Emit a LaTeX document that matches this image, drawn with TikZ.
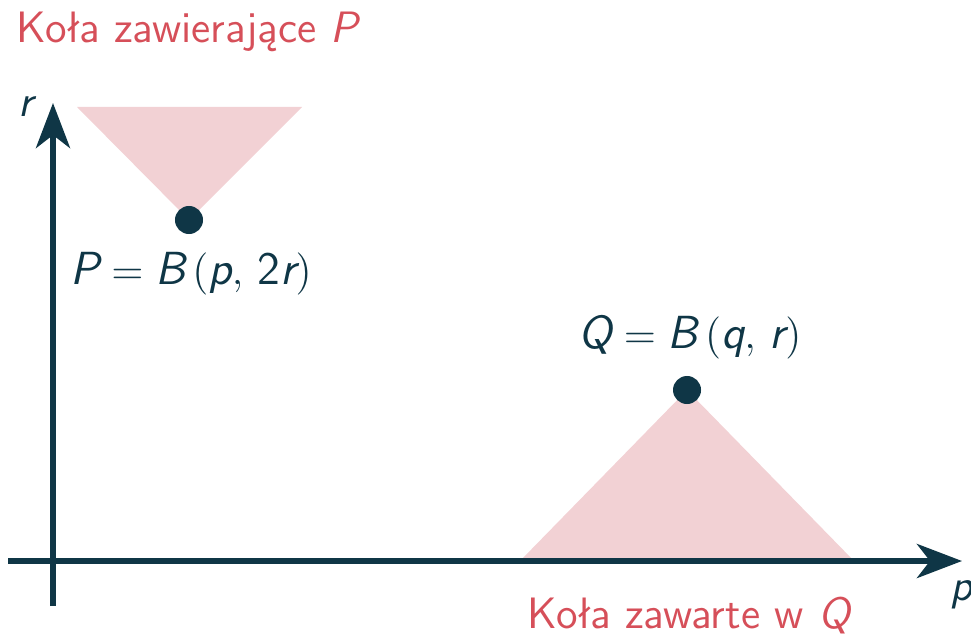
\documentclass[tikz,border=0pt]{standalone}
\usepackage{fontspec}
\usepackage{tikz}
\usetikzlibrary{arrows.meta}
\definecolor{ink}{HTML}{0F3646}
\definecolor{rose}{HTML}{D64F59}
\definecolor{blush}{HTML}{F2D1D4}
\newcommand{\mv}[1]{\textsf{\itshape #1}}

\begin{document}
\begin{tikzpicture}[x=0.01cm,y=-0.01cm,
  axis/.style={ink,line width=0.06cm,-{Stealth[length=0.45cm,width=0.34cm,inset=0.13cm]}},
  pt/.style={circle,fill=ink,inner sep=0pt,minimum size=0.28cm},
  lbl/.style={anchor=base west,inner sep=0pt,font=\fontsize{12.5}{15}\selectfont\sffamily},
  eq/.style={lbl,text=ink,font=\fontsize{13.2}{16}\selectfont\sffamily}]
  \useasboundingbox (0,0) rectangle (971,637);
  \coordinate (p) at (189,220);
  \coordinate (q) at (687,390);
  % balls containing P and balls inside Q
  \fill[blush] (p) -- (77,107) -- (302,107) -- cycle;
  \fill[blush] (q) -- (520,561) -- (854,561) -- cycle;
  % axes
  \coordinate (xs) at (8,561); \coordinate (xe) at (962,561);
  \coordinate (ys) at (53,606); \coordinate (ye) at (53,103);
  \draw[axis] (xs) -- (xe);
  \draw[axis] (ys) -- (ye);
  \node[lbl,text=ink] (rlbl) at (18,117) {\mv{r}};
  \node[lbl,text=ink] (plbl) at (950,600) {\mv{p}};
  % the two balls
  \node[pt] (P) at (p) {};
  \node[pt] (Q) at (q) {};
  \node[eq] (Pname) at (70,284) {$\mv{P} = \mv{B}\,(\mv{p},\,\textsf{2}\mv{r})$};
  \node[eq] (Qname) at (578,348) {$\mv{Q} = \mv{B}\,(\mv{q},\,\mv{r})$};
  \node[lbl,text=rose] (top) at (16,43) {Koła zawierające \mv{P}};
  \node[lbl,text=rose] (bot) at (527,628) {Koła zawarte w \mv{Q}};
\end{tikzpicture}
\end{document}
